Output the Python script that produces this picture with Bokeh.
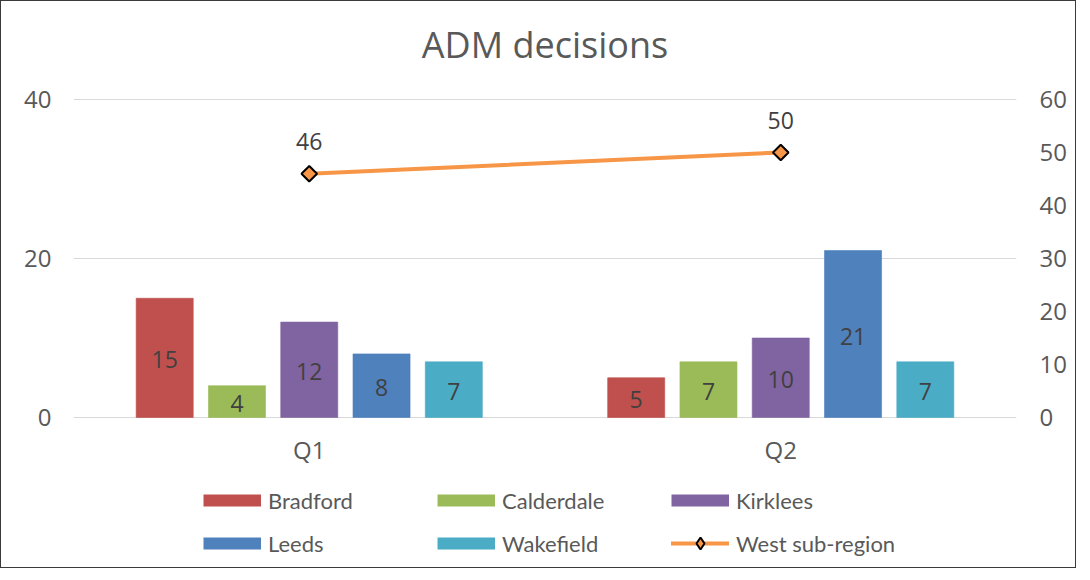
import math
from bokeh.plotting import figure
from bokeh.models import (FactorRange, Range1d, LinearAxis, ColumnDataSource,
                          Legend, LegendItem, FixedTicker, Label)
from bokeh.transform import dodge
from bokeh.core.properties import value
from bokeh.embed import file_html
from bokeh.resources import INLINE

# ---- data ----
quarters = ["Q1", "Q2"]
regions = ["Bradford", "Calderdale", "Kirklees", "Leeds", "Wakefield"]
bradford = [15, 5]
calderdale = [4, 7]
kirklees = [12, 10]
leeds = [8, 21]
wakefield = [7, 7]
west_sub_region = [46, 50]
line_name = "West sub-region"
left_ticks = [0, 20, 40]
right_ticks = [0, 10, 20, 30, 40, 50, 60]
title_text = "ADM decisions"

series = [bradford, calderdale, kirklees, leeds, wakefield]
colors = ["#C0504D", "#9BBB59", "#8064A2", "#4F81BD", "#4BACC6"]
line_color = "#F79646"

FONT = "Open Sans"
TEXT_GRAY = "#595959"
LABEL_GRAY = "#404040"

# axis extents (left 0..40, right 0..60); the frame is stretched above and
# below the visible ticks to host the title and the legend
left_max, right_max = 40, 60
ratio = right_max / left_max
room_above = 11.07
room_below = 19.12
left_range = (-room_below, left_max + room_above)
right_range = (-room_below * ratio, right_max + room_above * ratio)

W, H = 1076, 568
BORDER_L, BORDER_R, BORDER_T = 72, 61, 10

p = figure(
    width=W, height=H,
    x_range=FactorRange(factors=quarters, range_padding=0),
    y_range=Range1d(*left_range),
    x_axis_location="above",
    output_backend="svg", toolbar_location=None,
    min_border_left=BORDER_L, min_border_right=BORDER_R,
    min_border_top=BORDER_T, min_border_bottom=0,
)
p.extra_y_ranges = {"right": Range1d(*right_range)}
p.outline_line_color = None
p.background_fill_color = "white"
p.border_fill_color = "white"
p.styles = {"border": "1px solid #3a3a3a"}

# title (drawn inside the stretched frame)
frame_w = W - BORDER_L - BORDER_R
p.add_layout(Label(x=frame_w / 2, y=H - 43, x_units="screen", y_units="screen",
                   text=title_text, text_align="center", text_baseline="middle",
                   text_font=FONT, text_font_size="36px", text_color=TEXT_GRAY))

# grid
p.xgrid.grid_line_color = None
p.ygrid.ticker = FixedTicker(ticks=left_ticks)
p.ygrid.grid_line_color = "#D9D9D9"
p.ygrid.grid_line_width = 1

def style_axis(ax, standoff):
    ax.axis_line_color = None
    ax.major_tick_line_color = None
    ax.minor_tick_line_color = None
    ax.major_tick_out = 0
    ax.major_tick_in = 0
    ax.minor_tick_out = 0
    ax.major_label_text_font = FONT
    ax.major_label_text_font_size = "24px"
    ax.major_label_text_color = TEXT_GRAY
    ax.major_label_standoff = standoff

p.yaxis.ticker = FixedTicker(ticks=left_ticks)
style_axis(p.yaxis[0], 22)
# category axis pinned to the zero line, labels hanging below it
p.xaxis.fixed_location = 0
style_axis(p.xaxis[0], -49)

right_axis = LinearAxis(y_range_name="right", ticker=FixedTicker(ticks=right_ticks))
style_axis(right_axis, 23)
p.add_layout(right_axis, "right")

# bars
step = 0.1533
bar_w = 0.121
nan_vals = [float("nan")] * len(quarters)
legend_items = []
for i, (name, vals, col) in enumerate(zip(regions, series, colors)):
    off = (i - 2) * step
    src = ColumnDataSource(dict(
        x=quarters, top=vals,
        mid=[v / 2 for v in vals],
        label=[str(v) for v in vals],
    ))
    p.vbar(x=dodge("x", off, range=p.x_range), top="top", width=bar_w,
           source=src, fill_color=col, line_color=col, line_alpha=0.6)
    p.text(x=dodge("x", off, range=p.x_range), y="mid", text="label", source=src,
           y_offset=2, text_align="center", text_baseline="middle",
           text_font=value(FONT), text_font_size="23px", text_color=LABEL_GRAY)
    # legend swatch (no points drawn in the plot)
    proxy = p.line(x=quarters, y=nan_vals, line_color=col, line_width=12, line_cap="butt")
    legend_items.append(LegendItem(label=name, renderers=[proxy]))

# line series on right axis
lsrc = ColumnDataSource(dict(x=quarters, y=west_sub_region,
                             label=[str(v) for v in west_sub_region]))
p.line(x="x", y="y", source=lsrc, y_range_name="right",
       line_color=line_color, line_width=4, line_cap="round")
p.scatter(x="x", y="y", source=lsrc, y_range_name="right", marker="square",
          angle=math.pi / 4, size=11, fill_color=line_color,
          line_color="black", line_width=2)
p.text(x="x", y="y", text="label", source=lsrc, y_range_name="right",
       y_offset=-32, text_align="center", text_baseline="middle",
       text_font=value(FONT), text_font_size="23px", text_color=LABEL_GRAY)
lproxy = p.line(x=quarters, y=nan_vals, line_color=line_color, line_width=4,
                line_cap="round")
mproxy = p.scatter(x=quarters, y=nan_vals, marker="diamond", fill_color=line_color,
                   line_color="black", line_width=2)
legend_items.append(LegendItem(label=line_name, renderers=[lproxy, mproxy]))

legend = Legend(items=legend_items, ncols=3, orientation="horizontal",
                location=(130, 11),
                glyph_width=58, glyph_height=30, label_standoff=7,
                label_width=156, label_height=30, spacing=13,
                padding=0, margin=0,
                label_text_font="Lato", label_text_font_size="22px",
                label_text_color=TEXT_GRAY,
                border_line_color=None, background_fill_alpha=0)
p.add_layout(legend, "center")

open("out.html", "w").write(file_html(p, INLINE))
